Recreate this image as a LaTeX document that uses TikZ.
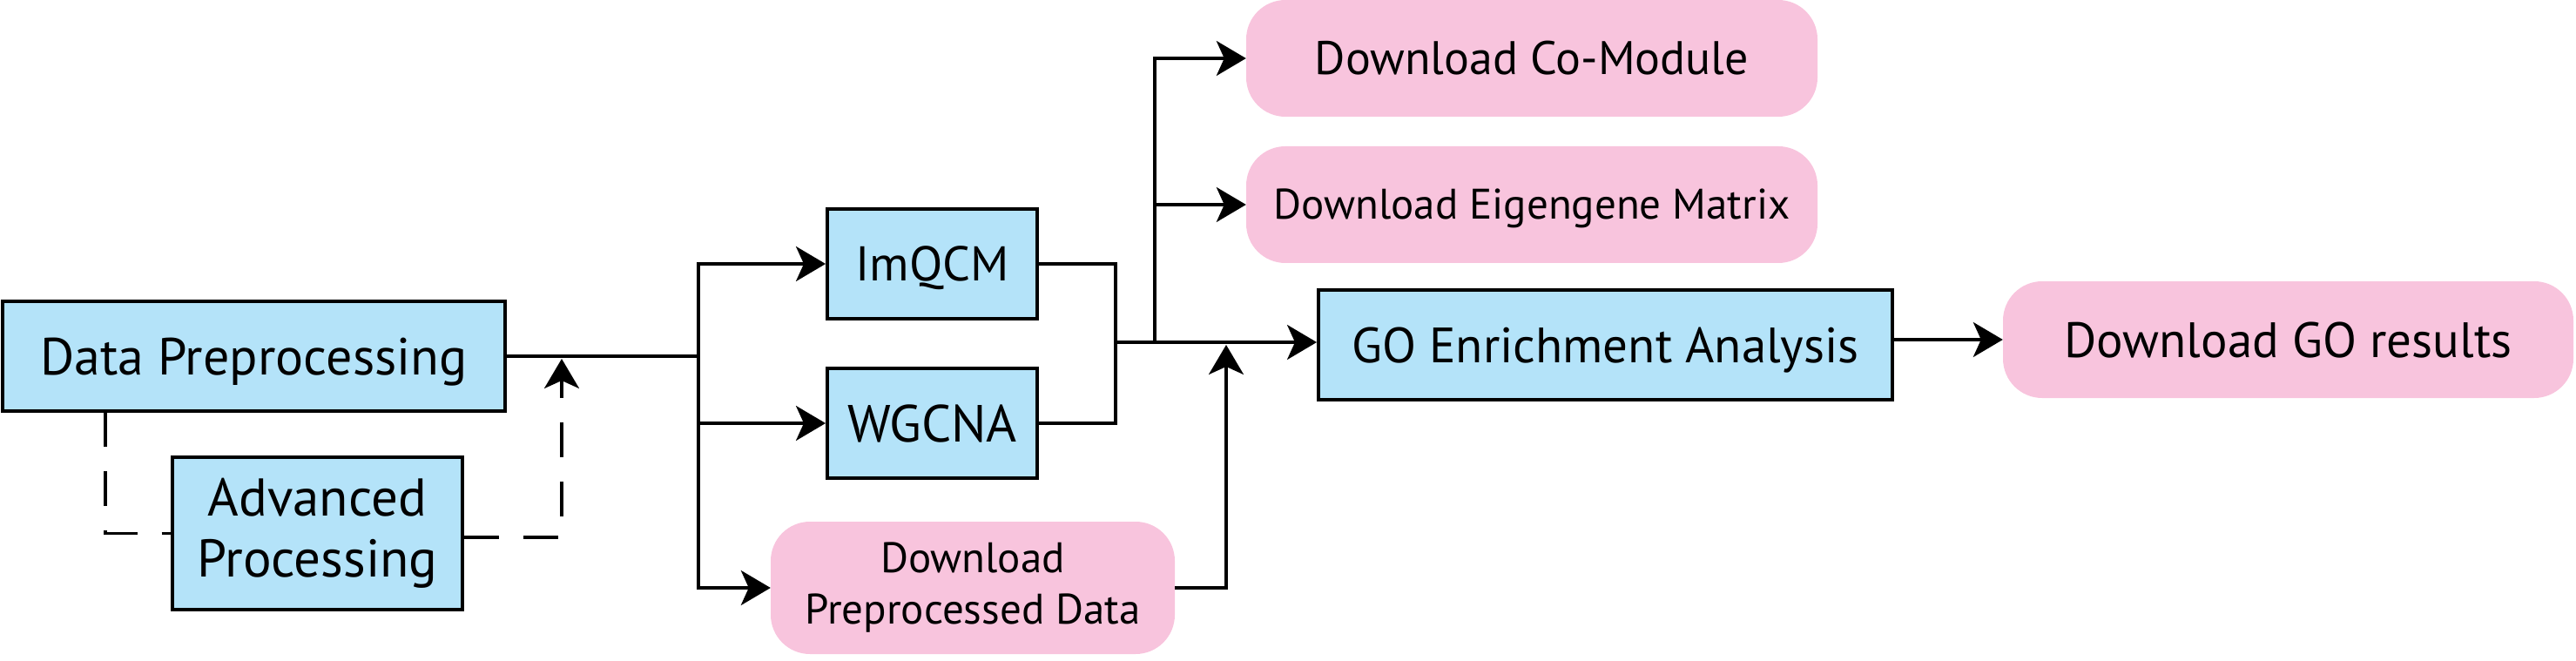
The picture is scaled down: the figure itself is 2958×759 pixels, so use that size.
\documentclass[tikz,border=0pt]{standalone}
\usepackage{fontspec}
\setmainfont{PT Sans}
\usetikzlibrary{arrows.meta}
\definecolor{bluefill}{RGB}{180,227,249}
\definecolor{pinkfill}{RGB}{248,196,221}
\begin{document}
\begin{tikzpicture}[x=1pt,y=-1pt,
  bluebox/.style={draw=black,line width=4pt,fill=bluefill,inner sep=0pt,align=center},
  pinkbox/.style={fill=pinkfill,rounded corners=45pt,inner sep=0pt,align=center},
  conn/.style={line width=3.2pt},
  arr/.style={conn,-{Stealth[length=34pt,width=40pt,inset=9pt]}},
  dsh/.style={conn,dash pattern=on 40pt off 28pt},
  fs/.style={font=\fontsize{#1}{#1}\selectfont},
  captxt/.style={text height=#1,text depth=0pt}
]
\useasboundingbox (0,0) rectangle (2958,759);

% boxes
\node[bluebox,fs=60,captxt=42pt,minimum width=577pt,minimum height=126pt] (dp) at (291.5,409) {Data Preprocessing};
\node[bluebox,font=\fontsize{61}{70}\selectfont,minimum width=333pt,minimum height=175pt] (ap) at (364.5,612.5) {Advanced\\Processing};
\node[bluebox,fs=56,captxt=39pt,minimum width=241pt,minimum height=126pt] (imqcm) at (1070.5,303) {ImQCM};
\node[bluebox,fs=60,captxt=42pt,minimum width=241pt,minimum height=126pt] (wgcna) at (1070.5,486) {WGCNA};
\node[pinkbox,font=\fontsize{49}{59}\selectfont,minimum width=464pt,minimum height=152pt] (dpd) at (1117,675) {Download\\Preprocessed Data};
\node[pinkbox,fs=54,captxt=38pt,minimum width=656pt,minimum height=134pt] (comod) at (1759,67) {Download Co-Module};
\node[pinkbox,fs=49,captxt=34pt,minimum width=656pt,minimum height=134pt] (eigen) at (1759,235) {Download Eigengene Matrix};
\node[bluebox,fs=57,captxt=40pt,minimum width=659pt,minimum height=126pt] (go) at (1843.5,396) {GO Enrichment Analysis};
\node[pinkbox,fs=57,captxt=40pt,minimum width=655pt,minimum height=134pt] (dgo) at (2627.5,390) {Download GO results};

% junction points
\coordinate (bus) at (802,409);
\coordinate (m) at (1281,393);
\coordinate (u) at (1326,393);
\coordinate (d) at (1408,396);
\coordinate (dl) at (121,473);
\coordinate (dr) at (645,412);

% connectors
\draw[conn] (dp.east |- bus) -- (bus);
\draw[arr] (bus) |- (imqcm.west);
\draw[arr] (bus) |- (wgcna.west);
\draw[arr] (bus) |- (dpd.west);
\draw[conn] (imqcm.east) -| (m);
\draw[conn] (wgcna.east) -| (m);
\draw[arr] (m) -- (m -| go.west);
\draw[arr] (u) |- (comod.west);
\draw[arr] (u) |- (eigen.west);
\draw[arr] (dpd.east) -| (d);
\draw[arr] (go.east |- dgo) -- (dgo.west);

% dashed loop
\draw[dsh] (dl) |- (ap.west);
\draw[dsh,arr] (ap.east |- 0,617) -| (dr);
\end{tikzpicture}
\end{document}
